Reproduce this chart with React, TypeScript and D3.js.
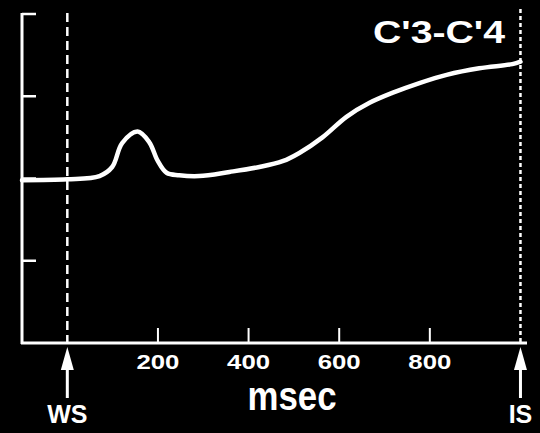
import React from "react";
import * as d3 from "d3";

const times = [-100, 0, 71, 99, 121, 155, 181, 199, 219, 247, 291, 358, 424, 475, 512, 563, 616, 667, 717, 777, 837, 909, 982, 1000];
const values = [1.98, 1.99, 2.03, 2.14, 2.43, 2.57, 2.44, 2.22, 2.07, 2.04, 2.03, 2.08, 2.14, 2.21, 2.31, 2.5, 2.75, 2.92, 3.04, 3.16, 3.26, 3.34, 3.39, 3.42];
const xTicks = [200, 400, 600, 800];
const yTicks = [1, 2, 3, 4];
const markers = [
  { t: 0, label: "WS" },
  { t: 1000, label: "IS" },
];
const title = "C'3-C'4";
const xLabel = "msec";

const W = 540;
const H = 433;
const FONT = "'Liberation Sans', Arial, Helvetica, sans-serif";

export default function App() {
  const x = d3.scaleLinear().domain([-100, 1010]).range([22, 525]);
  const y = d3.scaleLinear().domain([0, 4]).range([343, 14]);
  const pts: [number, number][] = times.map((t, i) => [t, values[i]]);
  const line = d3
    .line<[number, number]>()
    .x((d) => x(d[0]))
    .y((d) => y(d[1]))
    .curve(d3.curveCatmullRom.alpha(0.5));

  const x0 = x(-100);
  const yb = y(0);

  return (
    <div style={{ position: "fixed", left: 0, top: 0 }}>
      <svg width={W} height={H} style={{ display: "block", background: "#000" }}>
        <rect x={0} y={0} width={W} height={H} fill="#000" />
        {/* marker dashed lines */}
        {markers.map((m, i) => (
          <line
            key={m.label}
            x1={x(m.t)}
            x2={x(m.t)}
            y1={i === 0 ? 13 : 9}
            y2={yb}
            stroke="#fff"
            strokeWidth={2.5}
            strokeDasharray={i === 0 ? "9 5" : "4 3"}
          />
        ))}
        {/* axes */}
        <line x1={x0} x2={x0} y1={y(4) - 1} y2={yb + 1} stroke="#fff" strokeWidth={3} />
        <line x1={x0 - 1} x2={527} y1={yb} y2={yb} stroke="#fff" strokeWidth={3} />
        {yTicks.map((v) => (
          <line key={v} x1={x0} x2={x0 + 14} y1={y(v)} y2={y(v)} stroke="#fff" strokeWidth={2.5} />
        ))}
        {xTicks.map((t) => (
          <g key={t}>
            <line x1={x(t)} x2={x(t)} y1={yb} y2={yb - 15} stroke="#fff" strokeWidth={2} />
            <text
              x={x(t)}
              y={369}
              fill="#fff"
              fontFamily={FONT}
              fontWeight="bold"
              fontSize={21}
              textAnchor="middle"
              textLength={43}
              lengthAdjust="spacingAndGlyphs"
            >
              {t}
            </text>
          </g>
        ))}
        {/* curve */}
        <path d={line(pts) || ""} fill="none" stroke="#fff" strokeWidth={4.5} strokeLinejoin="round" strokeLinecap="round" />
        {/* arrows */}
        {markers.map((m) => {
          const cx = x(m.t);
          return (
            <g key={m.label}>
              <line x1={cx} x2={cx} y1={365} y2={398} stroke="#fff" strokeWidth={3} />
              <path d={`M${cx},347 L${cx - 6.5},370 L${cx + 6.5},370 Z`} fill="#fff" />
              <text
                x={cx}
                y={423}
                fill="#fff"
                fontFamily={FONT}
                fontWeight="bold"
                fontSize={25}
                textAnchor="middle"
              >
                {m.label}
              </text>
            </g>
          );
        })}
        {/* labels */}
        <text
          x={292}
          y={410}
          fill="#fff"
          fontFamily={FONT}
          fontWeight="bold"
          fontSize={40}
          textAnchor="middle"
          textLength={89}
          lengthAdjust="spacingAndGlyphs"
        >
          {xLabel}
        </text>
        <text
          x={373}
          y={43}
          fill="#fff"
          fontFamily={FONT}
          fontWeight="bold"
          fontSize={32}
          textLength={132}
          lengthAdjust="spacingAndGlyphs"
        >
          {title}
        </text>
      </svg>
    </div>
  );
}
